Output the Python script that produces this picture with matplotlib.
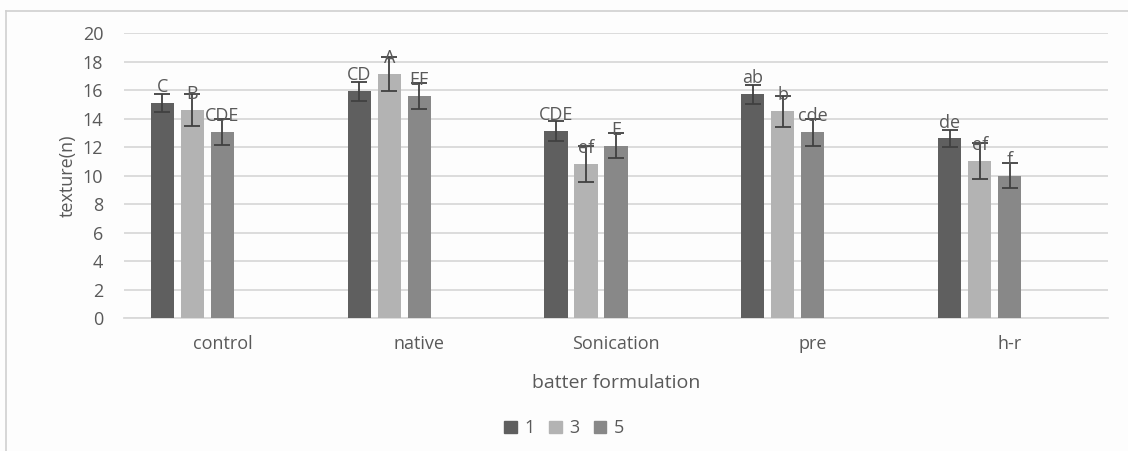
import matplotlib
matplotlib.use("Agg")
import matplotlib.pyplot as plt
import numpy as np
from matplotlib.patches import Rectangle
from matplotlib.lines import Line2D

plt.rcParams['font.family'] = ['Open Sans', 'DejaVu Sans']

categories = ['control', 'native', 'Sonication', 'pre', 'h-r']
series = ['1', '3', '5']
vals_1 = [15.1, 15.9, 13.1, 15.7, 12.6]
vals_3 = [14.6, 17.1, 10.8, 14.5, 11.0]
vals_5 = [13.05, 15.6, 12.1, 13.05, 10.0]
err_1 = [0.65, 0.65, 0.7, 0.65, 0.6]
err_3 = [1.1, 1.2, 1.25, 1.1, 1.25]
err_5 = [0.9, 0.9, 0.9, 0.95, 0.9]
lab_1 = ['C', 'CD', 'CDE', 'ab', 'de']
lab_3 = ['B', 'A', 'ef', 'b', 'ef']
lab_5 = ['CDE', 'EF', 'E', 'cde', 'f']

colors = ['#5f5f5f', '#b3b3b3', '#888888']
txt = '#595959'

fig = plt.figure(figsize=(11.28, 4.51), dpi=100)
fig.patch.set_facecolor('#fdfdfd')
# chart frame
fig.add_artist(Line2D([0.005, 0.005], [0.0, 0.976], color='#d0d0d0', lw=1.2))
fig.add_artist(Line2D([0.005, 1.0], [0.976, 0.976], color='#d0d0d0', lw=1.2))

ax = fig.add_axes([0.1099, 0.2949, 0.8724, 0.6319])
ax.set_facecolor('#fdfdfd')

x = np.arange(len(categories))
step = 0.1524
w = 0.117
offs = [-2 * step, -step, 0]
data = [(vals_1, err_1, lab_1), (vals_3, err_3, lab_3), (vals_5, err_5, lab_5)]
for i, (v, e, lab) in enumerate(data):
    xs = x + offs[i]
    ax.bar(xs, v, width=w, color=colors[i], zorder=3, label=series[i])
    ax.errorbar(xs, v, yerr=e, fmt='none', ecolor='#404040', elinewidth=1.3,
                capsize=6, capthick=1.3, zorder=4)
    for xi, vi, li in zip(xs, v, lab):
        ax.annotate(li, (xi, vi), xytext=(0, 5), textcoords='offset points',
                    ha='center', va='bottom', fontsize=13, color=txt, zorder=5)

ax.set_xlim(-0.5, len(categories) - 0.5)
ax.set_ylim(0, 20)
ax.set_yticks(range(0, 21, 2))
ax.set_xticks(x)
ax.set_xticklabels(categories)
ax.yaxis.grid(True, color='#d9d9d9', lw=1.3, zorder=0)
ax.set_axisbelow(True)
for s in ['top', 'right', 'left']:
    ax.spines[s].set_visible(False)
ax.spines['bottom'].set_color('#d9d9d9')
ax.spines['bottom'].set_linewidth(1.3)
ax.tick_params(axis='both', length=0, labelsize=13, colors=txt)
ax.tick_params(axis='x', pad=12)
ax.tick_params(axis='y', pad=15)
ax.set_ylabel('texture(n)', fontsize=13, color=txt, labelpad=4)
ax.set_xlabel('batter formulation', fontsize=14, color=txt, labelpad=15)

handles = [Rectangle((0, 0), 1, 1, color=c) for c in colors]
fig.legend(handles, series, loc='center', bbox_to_anchor=(0.5, 0.05),
           ncol=3, frameon=False, fontsize=13, handlelength=0.7,
           handleheight=0.7, handletextpad=0.4, columnspacing=0.8,
           labelcolor=txt)

fig.savefig('out.png', dpi=100, facecolor=fig.get_facecolor())
